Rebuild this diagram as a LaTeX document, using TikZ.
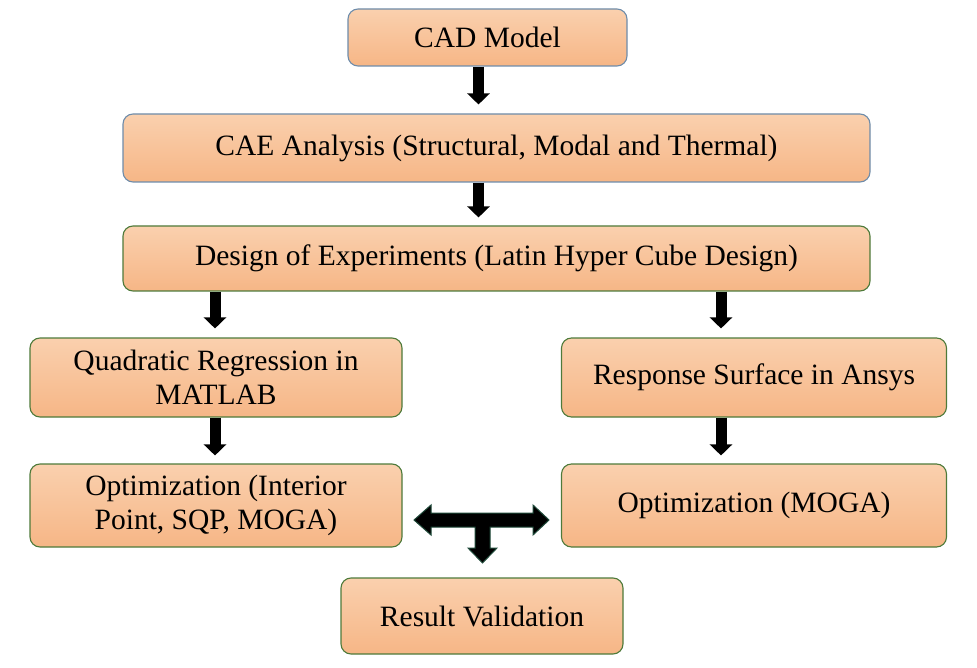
\documentclass[tikz,border=0pt]{standalone}
\usepackage{fontspec}
\setmainfont{Liberation Serif}
\usetikzlibrary{arrows.meta}
\definecolor{boxtop}{HTML}{FAD0AE}
\definecolor{boxbot}{HTML}{F6B686}
\definecolor{blueedge}{HTML}{6E8CAA}
\definecolor{greenedge}{HTML}{4E7A3A}
\definecolor{tedge}{HTML}{1F4A3A}
\tikzset{
  flowbox/.style={draw, line width=1.1pt, rounded corners=10pt, top color=boxtop, bottom color=boxbot,
    align=center, inner sep=2pt, font=\fontsize{29.5}{34}\selectfont},
  bluebox/.style={flowbox, draw=blueedge},
  greenbox/.style={flowbox, draw=greenedge},
  blk/.style={line width=11pt, -{Triangle[length=11pt, width=22pt]}, black}
}
\begin{document}
\begin{tikzpicture}[x=1pt, y=-1pt]
\useasboundingbox (0,0) rectangle (977,668);
\node[bluebox, minimum width=279pt, minimum height=57pt] (cad) at (487.5,37.5) {CAD Model};
\node[bluebox, minimum width=747pt, minimum height=68pt] (cae) at (496.5,148) {CAE Analysis (Structural, Modal and Thermal)};
\node[greenbox, minimum width=747pt, minimum height=65pt] (doe) at (496.5,258.5) {Design of Experiments (Latin Hyper Cube Design)};
\node[greenbox, minimum width=372pt, minimum height=79pt] (qr) at (216,377.5) {Quadratic Regression in\\MATLAB};
\node[greenbox, minimum width=385pt, minimum height=79pt] (rs) at (754,377.5) {Response Surface in Ansys};
\node[greenbox, minimum width=372pt, minimum height=83pt] (optl) at (216,505.5) {Optimization (Interior\\Point, SQP, MOGA)};
\node[greenbox, minimum width=385pt, minimum height=83pt] (optr) at (754,505.5) {Optimization (MOGA)};
\node[greenbox, minimum width=282pt, minimum height=76pt] (res) at (482,616) {Result Validation};
\coordinate (xa) at (478.5,0);
\coordinate (xl) at (215,0);
\coordinate (xr) at (721,0);
\draw[blk, shorten >=9pt] (cad.south -| xa) -- (cae.north -| xa);
\draw[blk, shorten >=8pt] (cae.south -| xa) -- (doe.north -| xa);
\draw[blk, shorten >=9pt] (doe.south -| xl) -- (qr.north -| xl);
\draw[blk, shorten >=9pt] (doe.south -| xr) -- (rs.north -| xr);
\draw[blk, shorten >=8pt] (qr.south -| xl) -- (optl.north -| xl);
\draw[blk, shorten >=8pt] (rs.south -| xr) -- (optr.north -| xr);
% T-shaped three-way arrow
\fill[black, draw=tedge, line width=1pt, line join=miter]
  (414,520) -- (431,505) -- (431,513) -- (533,513) -- (533,505) -- (549,520)
  -- (533,535) -- (533,527) -- (490,527) -- (490,548) -- (497,548) -- (482.5,563)
  -- (468,548) -- (475,548) -- (475,527) -- (431,527) -- (431,535) -- cycle;
\end{tikzpicture}
\end{document}
